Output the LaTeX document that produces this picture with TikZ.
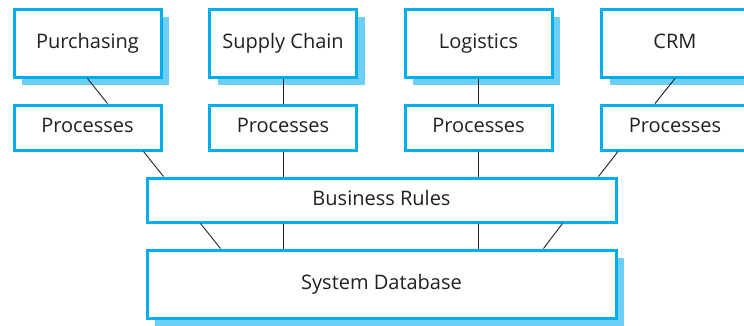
\documentclass[tikz,border=0pt]{standalone}
\usepackage{fontspec}
\setmainfont{Open Sans}
\definecolor{mBoxBlue}{HTML}{00AEEF}
\definecolor{mShadowBlue}{HTML}{6DCFF6}
\definecolor{mInk}{HTML}{231F20}
\usetikzlibrary{positioning,shadows,calc}
\tikzset{
  modbox/.style={draw=mBoxBlue, line width=3pt, fill=white, text=mInk,
    minimum width=147pt, inner sep=0pt, text height=14pt, text depth=4pt,
    font=\fontsize{20}{22}\selectfont},
  shadowed/.style={drop shadow={shadow xshift=8pt, shadow yshift=-8pt,
    fill=mShadowBlue, opacity=1}},
  link/.style={draw=mInk, line width=0.9pt}
}
\newcommand{\appbox}[3]{%
 \node[modbox, shadowed, minimum height=68pt] (#2) at (#1,43) {#3};%
 \node[modbox, minimum height=45pt] (p#2) at (#1,127.5) {Processes};}

\begin{document}
\begin{tikzpicture}[x=1pt,y=-1pt]
\useasboundingbox (0,0) rectangle (744,325);
\clip (0,0) rectangle (744,325);
\fill[white] (0,0) rectangle (744,325);
\appbox{87.5}{pur}{Purchasing}
\appbox{283}{sup}{Supply Chain}
\appbox{478.5}{log}{Logistics}
\appbox{675}{crm}{CRM}
\node[modbox, minimum width=469pt, minimum height=44pt] (br) at (381.5,200) {Business Rules};
\node[modbox, shadowed, minimum width=469pt, minimum height=68pt] (db) at (381.5,284) {System Database};
% applications to processes
\draw[link] (pur.south) -- ([xshift=20pt]ppur.north);
\draw[link] (sup.south) -- (psup.north);
\draw[link] (log.south) -- (plog.north);
\draw[link] (crm.south) -- ([xshift=-20pt]pcrm.north);
% processes to business rules
\draw[link] ([xshift=56pt]ppur.south) -- ([xshift=18pt]br.north west);
\draw[link] (psup.south) -- (psup.south |- br.north);
\draw[link] (plog.south) -- (plog.south |- br.north);
\draw[link] ([xshift=-57pt]pcrm.south) -- ([xshift=-19pt]br.north east);
% business rules to database
\draw[link] ([xshift=55pt]br.south west) -- ([xshift=75pt]db.north west);
\draw[link] (br.south -| psup) -- (db.north -| psup);
\draw[link] (br.south -| plog) -- (db.north -| plog);
\draw[link] ([xshift=-55pt]br.south east) -- ([xshift=-74pt]db.north east);
\end{tikzpicture}
\end{document}
